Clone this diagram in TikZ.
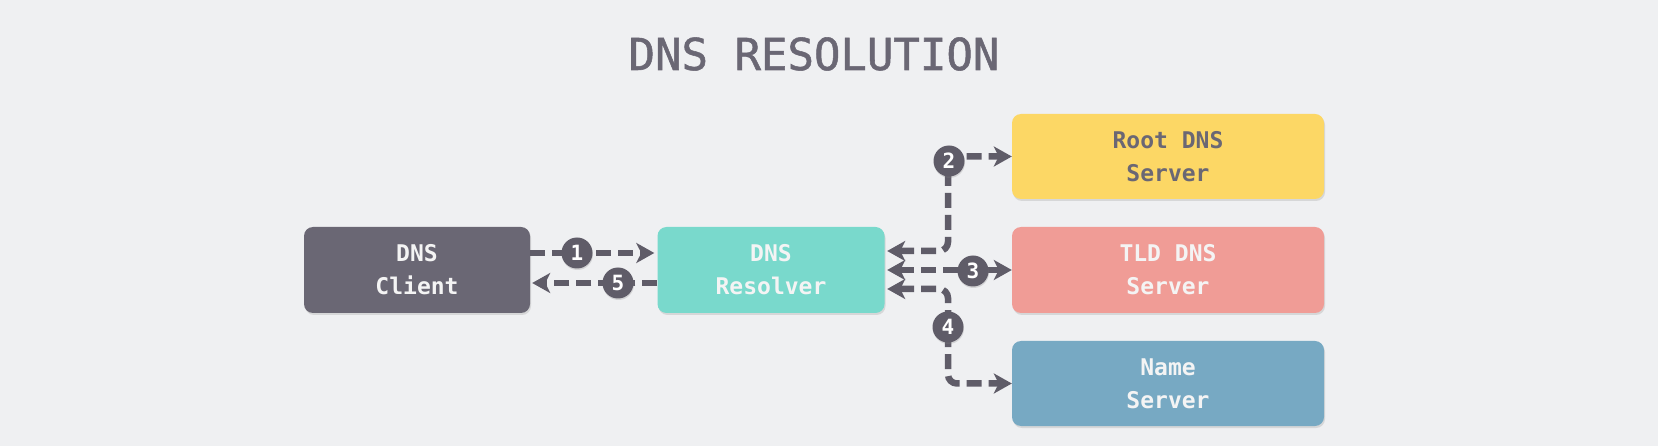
\documentclass[tikz,border=0pt]{standalone}
\usepackage{fontspec}
\setmonofont{DejaVu Sans Mono}
\newfontfamily\titlefont[FakeBold=1.2]{DejaVu Sans Mono}
\usetikzlibrary{arrows.meta,shadows}
\definecolor{bg}{HTML}{EFF0F2}
\definecolor{ink}{HTML}{5F5C68}
\definecolor{clientc}{HTML}{6A6774}
\definecolor{resolverc}{HTML}{79D9CC}
\definecolor{rootc}{HTML}{FCD765}
\definecolor{tldc}{HTML}{F09C96}
\definecolor{namec}{HTML}{77A9C3}
\definecolor{lighttext}{HTML}{F4F4F4}
\tikzset{
  box/.style={rectangle, rounded corners=9pt, minimum height=86pt, inner sep=0pt,
    align=center, font=\ttfamily\bfseries\fontsize{23}{33}\selectfont, text=lighttext,
    drop shadow={opacity=0.22, shadow xshift=1pt, shadow yshift=-2pt}},
  conn/.style={draw=ink, line width=6.5pt, dash pattern=on 15pt off 7pt, rounded corners=9pt,
    {Stealth[length=18pt,width=20pt,inset=5pt]}-{Stealth[length=18pt,width=20pt,inset=5pt]}},
  conn1/.style={draw=ink, line width=6.5pt, dash pattern=on 15pt off 7pt,
    -{Stealth[length=18pt,width=20pt,inset=5pt]}},
  num/.style={circle, fill=ink, minimum size=31pt, inner sep=0pt, text=white,
    font=\ttfamily\bfseries\fontsize{21}{21}\selectfont,
    drop shadow={opacity=0.25, shadow xshift=0.5pt, shadow yshift=-1.5pt}},
}
\begin{document}
\begin{tikzpicture}[x=1pt,y=-1pt]
\fill[bg] (0,0) rectangle (1658,446);
\useasboundingbox (0,0) rectangle (1658,446);

\node[text=clientc, font=\titlefont\fontsize{44}{44}\selectfont, anchor=base] (title) at (814,70) {DNS RESOLUTION};

\node[box, fill=clientc, minimum width=226pt] (client) at (417,270) {DNS\\Client};
\node[box, fill=resolverc, minimum width=227pt] (resolver) at (771,270) {DNS\\Resolver};
\node[box, fill=rootc, minimum width=312pt, minimum height=85pt, text=clientc] (root) at (1168,156.5) {Root DNS\\Server};
\node[box, fill=tldc, minimum width=312pt] (tld) at (1168,270) {TLD DNS\\Server};
\node[box, fill=namec, minimum width=312pt, minimum height=85pt] (name) at (1168,383.5) {Name\\Server};

\coordinate (bus) at (948,0);
\coordinate (rtop) at ([xshift=2.5pt,yshift=19pt]resolver.east);
\coordinate (rmid) at ([xshift=2.5pt]resolver.east);
\coordinate (rbot) at ([xshift=2.5pt,yshift=-19pt]resolver.east);

% 1 and 5
\draw[conn1] ([yshift=17pt]client.east) -- ([yshift=17pt,xshift=-3pt]resolver.west);
\draw[conn1] ([yshift=-13pt]resolver.west) -- ([yshift=-13pt,xshift=2pt]client.east);

% 2, 3, 4
\draw[conn] (rtop) -- (bus |- rtop) -- (bus |- root.west) -- (root.west);
\draw[conn] (rmid) -- (tld.west);
\draw[conn] (rbot) -- (bus |- rbot) -- (bus |- name.west) -- (name.west);

\node[num] (n1) at (577,253) {1};
\node[num] (n5) at (618,283) {5};
\node[num] (n2) at (949,161) {2};
\node[num] (n3) at (973,271) {3};
\node[num] (n4) at (948,327) {4};
\end{tikzpicture}
\end{document}
